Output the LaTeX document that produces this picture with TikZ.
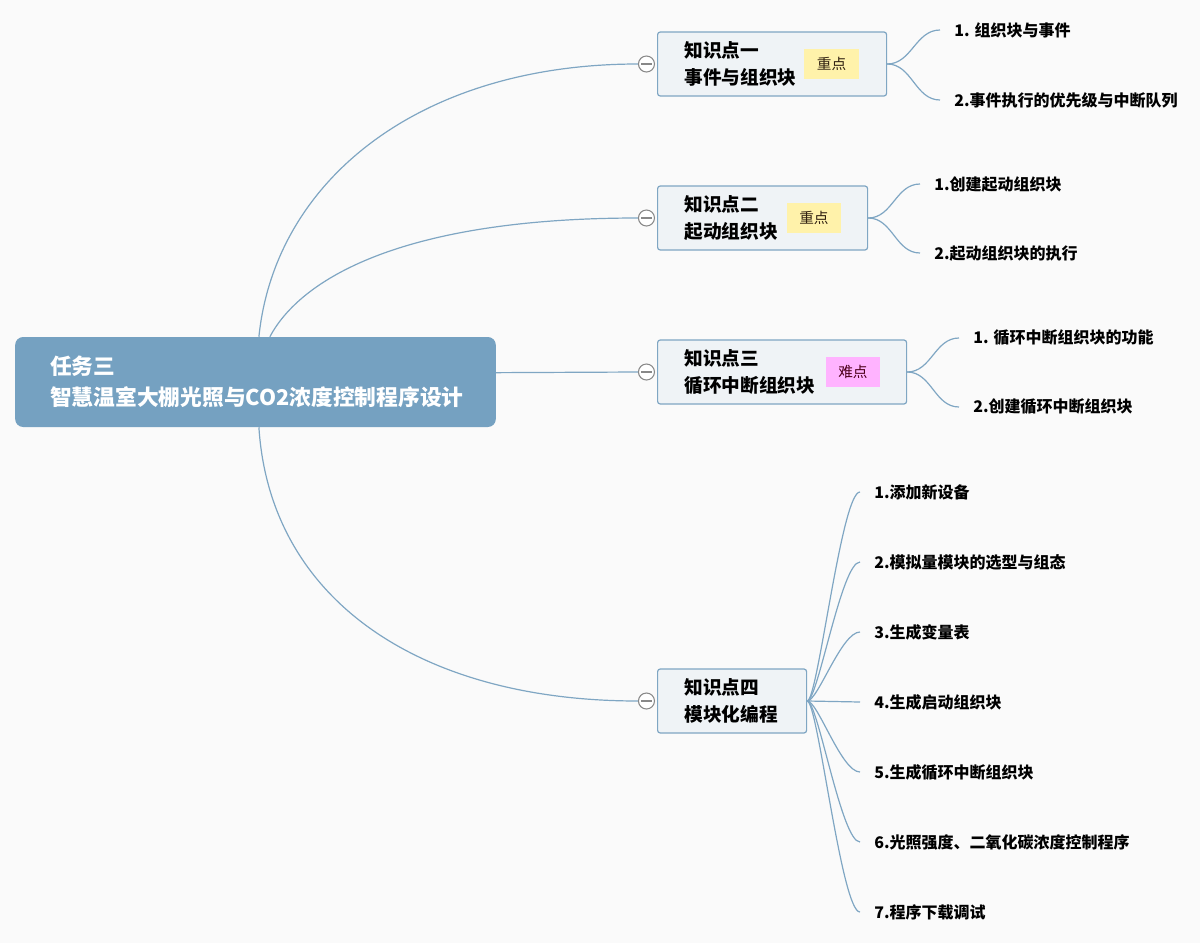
\documentclass[tikz,border=0pt]{standalone}
\usepackage{fontspec}
\setmainfont{Noto Sans CJK SC}
\usepackage{tikz}
\usetikzlibrary{positioning,calc}
\definecolor{paper}{RGB}{250,250,250}
\definecolor{rootblue}{RGB}{117,161,193}
\definecolor{topicfill}{RGB}{239,243,246}
\definecolor{topicline}{RGB}{127,166,195}
\definecolor{linkblue}{RGB}{127,166,195}
\definecolor{keyyellow}{RGB}{255,242,170}
\definecolor{hardpink}{RGB}{255,179,255}
\definecolor{foldgray}{RGB}{136,136,136}

\tikzset{
  root/.style={fill=rootblue,rounded corners=6pt,text=white,align=left,
    font=\fontsize{16.3}{23}\selectfont\bfseries,
    inner xsep=26.25pt,minimum height=67.5pt,text width=308pt},
  topic/.style={draw=topicline,fill=topicfill,rounded corners=2pt,line width=0.9pt,
    align=left,font=\fontsize{14}{20}\selectfont\bfseries,
    inner xsep=20.25pt,minimum height=48pt,anchor=west},
  keytag/.style={fill=keyyellow,text=black!75!brown,
    font=\fontsize{11}{13}\selectfont,minimum width=41pt,minimum height=23pt},
  hardtag/.style={keytag,fill=hardpink,text=black!60!purple},
  fold/.style={circle,draw=foldgray,fill=white,line width=0.8pt,
    minimum size=12pt,inner sep=0pt,
    path picture={\draw[foldgray,line width=0.8pt]
      ([xshift=2.2pt]path picture bounding box.west) --
      ([xshift=-2.2pt]path picture bounding box.east);}},
  leaf/.style={anchor=west,inner xsep=10.5pt,
    font=\fontsize{12}{14}\selectfont\bfseries},
  link/.style={draw=linkblue,line width=0.9pt},
}

\begin{document}
\begin{tikzpicture}[x=0.75pt,y=-0.75pt]
  \fill[paper] (0,0) rectangle (1200,943);
  \useasboundingbox (0,0) rectangle (1200,943);

  % central task
  \node[root] (task) at (255.5,382) {任务三\\智慧温室大棚光照与CO2浓度控制程序设计};

  % knowledge points
  \node[topic,minimum width=171.75pt,text width=131.25pt] (t1) at (657,64) {知识点一\\事件与组织块};
  \node[keytag,left=21pt of t1.east] (k1) {重点};
  \node[fold,left=1.5pt of t1] (f1) {};

  \node[topic,minimum width=157.5pt,text width=117pt] (t2) at (657,218) {知识点二\\起动组织块};
  \node[keytag,left=20pt of t2.east] (k2) {重点};
  \node[fold,left=1.5pt of t2] (f2) {};

  \node[topic,minimum width=186.75pt,text width=146.25pt] (t3) at (657,372) {知识点三\\循环中断组织块};
  \node[hardtag,left=20pt of t3.east] (k3) {难点};
  \node[fold,left=1.5pt of t3] (f3) {};

  \node[topic,minimum width=111.75pt,text width=71.25pt] (t4) at (657,701) {知识点四\\模块化编程};
  \node[fold,left=1.5pt of t4] (f4) {};

  % task -> knowledge points
  \draw[link] ([xshift=183pt]task.north west) .. controls (275,180) and (420,64) .. (f1.west);
  \draw[link] ([xshift=191.25pt]task.north west) .. controls (300,280) and (400,218) .. (f2.west);
  \draw[link] ([yshift=7pt]task.east) -- (f3.west);
  \draw[link] ([xshift=183pt]task.south west) .. controls (270,600) and (420,701) .. (f4.west);

  % sub points
  \node[leaf] (s11) at (940,30) {1. 组织块与事件};
  \node[leaf] (s12) at (940,100) {2.事件执行的优先级与中断队列};
  \node[leaf] (s21) at (920,184) {1.创建起动组织块};
  \node[leaf] (s22) at (920,253) {2.起动组织块的执行};
  \node[leaf] (s31) at (959,338) {1. 循环中断组织块的功能};
  \node[leaf] (s32) at (959,407) {2.创建循环中断组织块};
  \node[leaf] (s41) at (860,492) {1.添加新设备};
  \node[leaf] (s42) at (860,562) {2.模拟量模块的选型与组态};
  \node[leaf] (s43) at (860,632) {3.生成变量表};
  \node[leaf] (s44) at (860,702) {4.生成启动组织块};
  \node[leaf] (s45) at (860,772) {5.生成循环中断组织块};
  \node[leaf] (s46) at (860,842) {6.光照强度、二氧化碳浓度控制程序};
  \node[leaf] (s47) at (860,912) {7.程序下载调试};

  \draw[link] (t1.east) to[out=0,in=180] (s11.west);
  \draw[link] (t1.east) to[out=0,in=180] (s12.west);
  \draw[link] (t2.east) to[out=0,in=180] (s21.west);
  \draw[link] (t2.east) to[out=0,in=180] (s22.west);
  \draw[link] (t3.east) to[out=0,in=180] (s31.west);
  \draw[link] (t3.east) to[out=0,in=180] (s32.west);
  \draw[link] (t4.east) to[out=0,in=180,out distance=8pt,in distance=14pt] (s41.west);
  \draw[link] (t4.east) to[out=0,in=180,out distance=8pt,in distance=14pt] (s42.west);
  \draw[link] (t4.east) to[out=0,in=180,out distance=8pt,in distance=14pt] (s43.west);
  \draw[link] (t4.east) -- (s44.west);
  \draw[link] (t4.east) to[out=0,in=180,out distance=8pt,in distance=14pt] (s45.west);
  \draw[link] (t4.east) to[out=0,in=180,out distance=8pt,in distance=14pt] (s46.west);
  \draw[link] (t4.east) to[out=0,in=180,out distance=8pt,in distance=14pt] (s47.west);
\end{tikzpicture}
\end{document}
